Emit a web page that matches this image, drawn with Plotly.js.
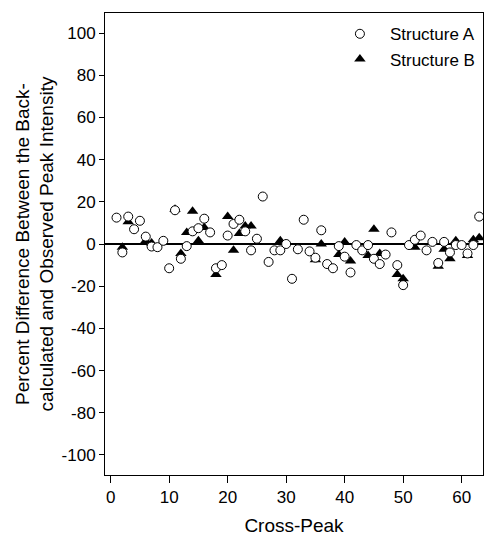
<!DOCTYPE html>
<html>
<head>
<meta charset="utf-8">
<script src="https://cdn.plot.ly/plotly-3.0.1.min.js"></script>
<style>html,body{margin:0;padding:0;background:#fff;}#chart{width:484px;height:542px;}</style>
</head>
<body>
<div id="chart"></div>
<script>
var crossPeakA = [1,2,3,4,5,6,7,8,9,10,11,12,13,14,15,16,17,18,19,20,21,22,23,24,25,26,27,28,29,30,31,32,33,34,35,36,37,38,39,40,41,42,43,44,45,46,47,48,49,50,51,52,53,54,55,56,57,58,59,60,61,62,63];
var structureA = [12.5,-4,13,7,11,3.5,-1.2,-1.5,1.5,-11.5,16,-7,-1,6,7.5,12,5.5,-11.5,-10,4,9.5,11.5,6,-3,2.5,22.5,-8.5,-3,-3,0,-16.5,-2.5,11.5,-3.5,-6.5,6.5,-9.5,-11.5,-1,-6,-13.5,-0.5,-3,-0.5,-7,-9.5,-5,5.5,-10,-19.5,-0.5,2,4,-3,1,-9,1,-4,-0.5,-0.5,-4.5,-0.5,13];
var crossPeakB = [2,3,6,7,11,12,13,14,15,16,18,20,21,22,23,24,29,35,36,39,40,41,44,45,46,49,50,52,56,57,58,59,61,62,63];
var structureB = [-1.5,10.5,1.5,0.5,16.5,-4.5,5.5,15.5,1.5,7.8,-14.5,13,-3,5,8.5,8.5,1.5,-7.5,0,-5,1,-8,-5.5,7,-4.5,-14.5,-16.5,-1.5,-10.5,-2.5,-7,1.5,-5.5,2,3];
var xTicks = [0,10,20,30,40,50,60];
var yTicks = [-100,-80,-60,-40,-20,0,20,40,60,80,100];

var font = "Arial, 'Liberation Sans', Helvetica, sans-serif";

var traceB = {
  x: crossPeakB, y: structureB, mode: 'markers', type: 'scatter', name: 'Structure B',
  legendrank: 2,
  marker: {symbol: 'triangle-up', size: 10, color: '#000', line: {width: 0}}
};
var traceA = {
  x: crossPeakA, y: structureA, mode: 'markers', type: 'scatter', name: 'Structure A',
  legendrank: 1,
  marker: {symbol: 'circle', size: 9, color: '#fff', line: {color: '#000', width: 1}}
};

var layout = {
  width: 484, height: 542,
  margin: {l: 105, r: 1, t: 13, b: 67},
  paper_bgcolor: '#fff', plot_bgcolor: '#fff',
  font: {family: font, color: '#000', size: 17},
  showlegend: true,
  legend: {x: 0.595, xanchor: 'left', y: 0.993, yanchor: 'top', bgcolor: 'rgba(0,0,0,0)',
           itemwidth: 50, tracegroupgap: 0, font: {family: font, size: 17, color: '#000'}},
  xaxis: {
    range: [-0.97, 63.65], tickvals: xTicks, ticktext: xTicks.map(String),
    ticks: 'outside', ticklen: 7, tickwidth: 1, tickcolor: '#000',
    showline: true, linecolor: '#000', linewidth: 1, mirror: true,
    showgrid: false, zeroline: false,
    tickfont: {family: font, size: 17},
    title: {text: 'Cross-Peak', font: {family: font, size: 19}, standoff: 12}
  },
  yaxis: {
    range: [-109.5, 109.5], tickvals: yTicks, ticktext: yTicks.map(String),
    ticks: 'outside', ticklen: 5, tickwidth: 1, tickcolor: '#000',
    showline: true, linecolor: '#000', linewidth: 1, mirror: true,
    showgrid: false, zeroline: true, zerolinecolor: '#000', zerolinewidth: 1.5,
    tickfont: {family: font, size: 17},
    title: {text: 'Percent Difference Between the Back-<br>calculated and Observed Peak Intensity',
            font: {family: font, size: 19}, standoff: 2}
  }
};

Plotly.newPlot('chart', [traceB, traceA], layout, {displayModeBar: false, staticPlot: true});
</script>
</body>
</html>
